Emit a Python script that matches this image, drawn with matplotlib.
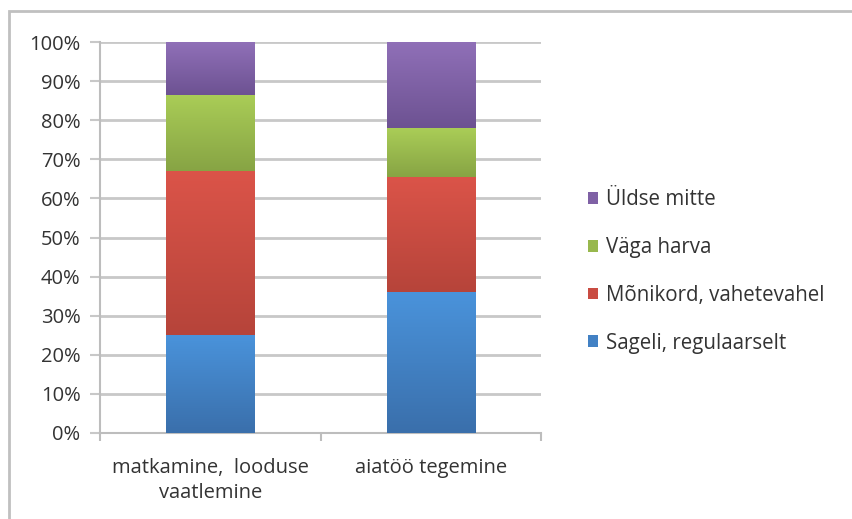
import matplotlib
matplotlib.use("Agg")
import matplotlib.pyplot as plt
import numpy as np
from matplotlib.patches import Rectangle
from matplotlib.colors import LinearSegmentedColormap

categories = ["matkamine,  looduse\nvaatlemine", "aiatöö tegemine"]
series_names = ["Sageli, regulaarselt", "Mõnikord, vahetevahel", "Väga harva", "Üldse mitte"]
sageli = [25.0, 36.0]
monikord = [42.0, 29.5]
vaga_harva = [19.5, 12.5]
uldse_mitte = [13.5, 22.0]
yticks = [0, 10, 20, 30, 40, 50, 60, 70, 80, 90, 100]
ytick_labels = [f"{v}%" for v in yticks]

series = [sageli, monikord, vaga_harva, uldse_mitte]
top_colors = ["#4a93db", "#db5449", "#aacd57", "#9070b8"]
bot_colors = ["#3a6fab", "#b6443a", "#87a444", "#6d5292"]
mid_colors = ["#4281c4", "#c94c42", "#98b84d", "#7f61a5"]

plt.rcParams['font.family'] = ['Open Sans', 'DejaVu Sans']

fig = plt.figure(figsize=(8.52, 5.19), dpi=100)
fig.patches.append(Rectangle((9/852, -0.1), 1.2, (519-11)/519 + 0.1, transform=fig.transFigure,
                             fill=False, edgecolor="#c0c0c0", linewidth=2, zorder=0))
ax = fig.add_axes([100/852, 86/519, 441/852, 391/519])

x = np.arange(len(categories))
width = 0.4
bottom = np.zeros(len(categories))
handles = []
for vals, name, tc, bc, mc in zip(series, series_names, top_colors, bot_colors, mid_colors):
    bars = ax.bar(x, vals, width, bottom=bottom, color=mc, label=name, zorder=3, linewidth=0)
    cmap = LinearSegmentedColormap.from_list("g", [bc, tc])
    grad = np.linspace(0, 1, 256).reshape(-1, 1)
    for b in bars:
        bx, by = b.get_x(), b.get_y()
        im = ax.imshow(grad, cmap=cmap, origin="lower", aspect="auto",
                       extent=(bx, bx + b.get_width(), by, by + b.get_height()), zorder=4)
        im.set_clip_path(b)
    handles.append(bars)
    bottom = bottom + np.array(vals)

ax.set_xlim(-0.5, len(categories) - 0.5)
ax.set_ylim(0, 100)
ax.set_yticks(yticks)
ax.set_yticklabels(ytick_labels)
ax.yaxis.grid(True, color="#c8c8c8", linewidth=2, zorder=1)
ax.set_axisbelow(True)
ax.set_xticks(x)
ax.set_xticklabels(categories, fontsize=14.5, color="#333333", linespacing=1.3)
ax.set_xticks([-0.5, 0.5, 1.5], minor=True)
ax.tick_params(axis="x", which="major", length=0, pad=18)
ax.tick_params(axis="x", which="minor", length=6, width=1.5, color="#bdbdbd", direction="out")
ax.tick_params(axis="y", length=7, width=1.5, color="#c8c8c8", labelsize=14.5, labelcolor="#333333", pad=7)
for s in ["top", "right"]:
    ax.spines[s].set_visible(False)
for s in ["left", "bottom"]:
    ax.spines[s].set_color("#bdbdbd")
    ax.spines[s].set_linewidth(1.5)

leg = ax.legend(handles[::-1], series_names[::-1], loc="center left", bbox_to_anchor=(1.065, 0.413),
                frameon=False, fontsize=14.8, handlelength=0.5, handleheight=0.5,
                handletextpad=0.35, labelspacing=1.3, labelcolor="#333333")
for t, c in zip(leg.get_patches(), mid_colors[::-1]):
    t.set_facecolor(c)

fig.savefig("out.png", dpi=100)
